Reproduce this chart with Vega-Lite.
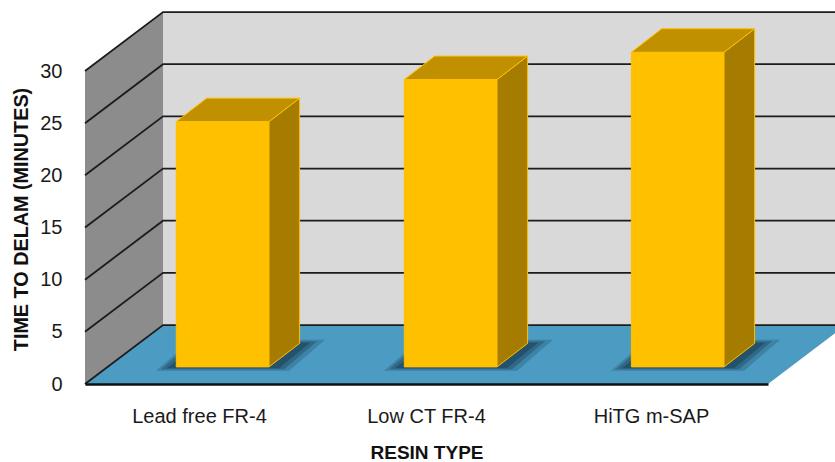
{
"$schema":"https://vega.github.io/schema/vega-lite/v6.json",
"autosize":"none","width":683,"height":313,
"padding":{"left":85,"top":71,"right":67,"bottom":78},
"background":"white",
"config":{"view":{"stroke":null}},
"datasets":{
"walls":[
{"face":"back","x":78,"low":5.65,"high":35.65},{"face":"back","x":760,"low":5.65,"high":35.65},
{"face":"side","x":0,"low":0,"high":30},{"face":"side","x":78,"low":5.65,"high":35.65},
{"face":"floor","x":0,"low":0,"high":0},{"face":"floor","x":78,"low":0,"high":5.65},{"face":"floor","x":683,"low":0,"high":5.65},{"face":"floor","x":761,"low":5.65,"high":5.65}
],
"grid":[
{"level":0,"x":0,"high":0},{"level":0,"x":78,"high":5.65},{"level":0,"x":760,"high":5.65},
{"level":5,"x":0,"high":5},{"level":5,"x":78,"high":10.65},{"level":5,"x":760,"high":10.65},
{"level":10,"x":0,"high":10},{"level":10,"x":78,"high":15.65},{"level":10,"x":760,"high":15.65},
{"level":15,"x":0,"high":15},{"level":15,"x":78,"high":20.65},{"level":15,"x":760,"high":20.65},
{"level":20,"x":0,"high":20},{"level":20,"x":78,"high":25.65},{"level":20,"x":760,"high":25.65},
{"level":25,"x":0,"high":25},{"level":25,"x":78,"high":30.65},{"level":25,"x":760,"high":30.65},
{"level":30,"x":0,"high":30},{"level":30,"x":78,"high":35.65},{"level":30,"x":760,"high":35.65}
],
"shadow":[
{"bar":"a","ring":"1","x":71,"low":1.28,"high":1.28},{"bar":"a","ring":"1","x":107,"low":1.28,"high":4.25},{"bar":"a","ring":"1","x":204,"low":1.28,"high":4.25},{"bar":"a","ring":"1","x":240,"low":4.25,"high":4.25},
{"bar":"a","ring":"2","x":76,"low":1.42,"high":1.42},{"bar":"a","ring":"2","x":109,"low":1.42,"high":4.1},{"bar":"a","ring":"2","x":199,"low":1.42,"high":4.1},{"bar":"a","ring":"2","x":232,"low":4.1,"high":4.1},
{"bar":"a","ring":"3","x":82,"low":1.52,"high":1.52},{"bar":"a","ring":"3","x":113,"low":1.52,"high":3.96},{"bar":"a","ring":"3","x":194,"low":1.52,"high":3.96},{"bar":"a","ring":"3","x":225,"low":3.96,"high":3.96},
{"bar":"b","ring":"1","x":299,"low":1.28,"high":1.28},{"bar":"b","ring":"1","x":335,"low":1.28,"high":4.25},{"bar":"b","ring":"1","x":432,"low":1.28,"high":4.25},{"bar":"b","ring":"1","x":468,"low":4.25,"high":4.25},
{"bar":"b","ring":"2","x":304,"low":1.42,"high":1.42},{"bar":"b","ring":"2","x":337,"low":1.42,"high":4.1},{"bar":"b","ring":"2","x":427,"low":1.42,"high":4.1},{"bar":"b","ring":"2","x":460,"low":4.1,"high":4.1},
{"bar":"b","ring":"3","x":310,"low":1.52,"high":1.52},{"bar":"b","ring":"3","x":341,"low":1.52,"high":3.96},{"bar":"b","ring":"3","x":422,"low":1.52,"high":3.96},{"bar":"b","ring":"3","x":453,"low":3.96,"high":3.96},
{"bar":"c","ring":"1","x":526,"low":1.28,"high":1.28},{"bar":"c","ring":"1","x":562,"low":1.28,"high":4.25},{"bar":"c","ring":"1","x":659,"low":1.28,"high":4.25},{"bar":"c","ring":"1","x":695,"low":4.25,"high":4.25},
{"bar":"c","ring":"2","x":531,"low":1.42,"high":1.42},{"bar":"c","ring":"2","x":564,"low":1.42,"high":4.1},{"bar":"c","ring":"2","x":654,"low":1.42,"high":4.1},{"bar":"c","ring":"2","x":687,"low":4.1,"high":4.1},
{"bar":"c","ring":"3","x":537,"low":1.52,"high":1.52},{"bar":"c","ring":"3","x":568,"low":1.52,"high":3.96},{"bar":"c","ring":"3","x":649,"low":1.52,"high":3.96},{"bar":"c","ring":"3","x":680,"low":3.96,"high":3.96}
],
"bars":[
{"resin":"Lead free FR-4","face":"front","x":91.3,"low":1.64,"high":25.15},{"resin":"Lead free FR-4","face":"front","x":184,"low":1.64,"high":25.15},
{"resin":"Lead free FR-4","face":"side","x":184,"low":1.64,"high":25.15},{"resin":"Lead free FR-4","face":"side","x":214.6,"low":3.89,"high":27.4},
{"resin":"Lead free FR-4","face":"top","x":91.3,"low":25.15,"high":25.15},{"resin":"Lead free FR-4","face":"top","x":121.7,"low":25.15,"high":27.4},{"resin":"Lead free FR-4","face":"top","x":184,"low":25.15,"high":27.4},{"resin":"Lead free FR-4","face":"top","x":214.6,"low":27.4,"high":27.4},
{"resin":"Low CT FR-4","face":"front","x":319.3,"low":1.64,"high":29.18},{"resin":"Low CT FR-4","face":"front","x":412,"low":1.64,"high":29.18},
{"resin":"Low CT FR-4","face":"side","x":412,"low":1.64,"high":29.18},{"resin":"Low CT FR-4","face":"side","x":442.6,"low":3.89,"high":31.43},
{"resin":"Low CT FR-4","face":"top","x":319.3,"low":29.18,"high":29.18},{"resin":"Low CT FR-4","face":"top","x":349.7,"low":29.18,"high":31.43},{"resin":"Low CT FR-4","face":"top","x":412,"low":29.18,"high":31.43},{"resin":"Low CT FR-4","face":"top","x":442.6,"low":31.43,"high":31.43},
{"resin":"HiTG m-SAP","face":"front","x":546.4,"low":1.64,"high":31.8},{"resin":"HiTG m-SAP","face":"front","x":639,"low":1.64,"high":31.8},
{"resin":"HiTG m-SAP","face":"side","x":639,"low":1.64,"high":31.8},{"resin":"HiTG m-SAP","face":"side","x":669.6,"low":3.89,"high":34.05},
{"resin":"HiTG m-SAP","face":"top","x":546.4,"low":31.8,"high":31.8},{"resin":"HiTG m-SAP","face":"top","x":576.7,"low":31.8,"high":34.05},{"resin":"HiTG m-SAP","face":"top","x":639,"low":31.8,"high":34.05},{"resin":"HiTG m-SAP","face":"top","x":669.6,"low":34.05,"high":34.05}
]
},
"encoding":{
"x":{"field":"x","type":"quantitative","scale":{"domain":[0,683],"nice":false,"zero":false},
"axis":{"title":"RESIN TYPE","values":[114,341,566],"labelExpr":"datum.value<200?'Lead free FR-4':datum.value<400?'Low CT FR-4':'HiTG m-SAP'","grid":false,"ticks":false,"domainColor":"#111111","domainWidth":2.5,"labelFont":"Liberation Sans","labelFontSize":20,"labelColor":"#1a1a1a","labelPadding":22,"labelBaseline":"top","titleFont":"Liberation Sans","titleFontSize":19,"titleFontWeight":"bold","titleColor":"#111111","titlePadding":17,"zindex":1,"labelOverlap":false,"labelFlush":false}},
"y":{"field":"high","type":"quantitative","scale":{"domain":[0,30],"nice":false,"zero":false},
"axis":{"title":"TIME TO DELAM (MINUTES)","values":[0,5,10,15,20,25,30],"grid":false,"ticks":false,"domain":false,"labelFont":"Liberation Sans","labelFontSize":20,"labelColor":"#1a1a1a","labelPadding":23,"titleFont":"Liberation Sans","titleFontSize":19.8,"titleFontWeight":"bold","titleColor":"#111111","titleX":-54,"titleY":148,"labelOverlap":false,"labelFlush":false}}
},
"layer":[
{"data":{"name":"walls"},"mark":{"type":"area","clip":false},
"encoding":{"y2":{"field":"low"},"color":{"field":"face","type":"nominal","legend":null,"scale":{"domain":["back","side","floor"],"range":["#d9d9d9","#8c8c8c","#4c9bc3"]}}}},
{"data":{"name":"grid"},"mark":{"type":"line","color":"#1c1c1c","strokeWidth":1.8,"clip":false},
"encoding":{"detail":{"field":"level","type":"nominal"}}},
{"data":{"name":"shadow"},"mark":{"type":"area","color":"#0d2a3c","clip":false},
"encoding":{"y2":{"field":"low"},"detail":{"field":"bar","type":"nominal"},"opacity":{"field":"ring","type":"nominal","legend":null,"scale":{"domain":["1","2","3"],"range":[0.22,0.35,0.65]}}}},
{"data":{"name":"bars"},"mark":{"type":"area","stroke":"#ffc000","strokeWidth":1,"clip":false},
"encoding":{"y2":{"field":"low"},"detail":{"field":"resin","type":"nominal"},"color":{"field":"face","type":"nominal","legend":null,"scale":{"domain":["front","side","top"],"range":["#ffc000","#a67c00","#c09000"]}}}}
],
"resolve":{"scale":{"color":"independent"}}
}
